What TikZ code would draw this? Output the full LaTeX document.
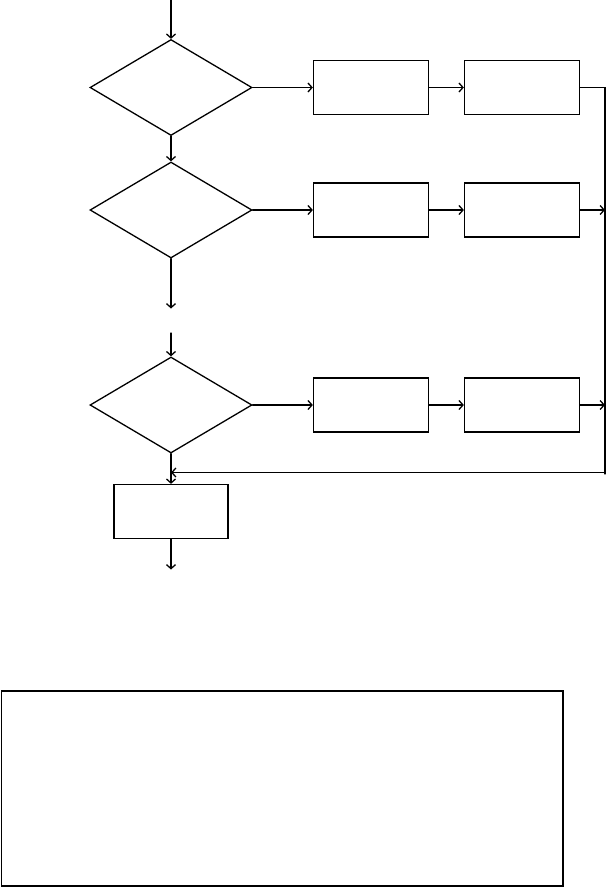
\documentclass[tikz,border=0pt]{standalone}
\usepackage{amssymb,amsmath,tikz}
\usetikzlibrary{arrows.meta, shapes.geometric, positioning, calc}

\begin{document}
\begin{tikzpicture}[x=1pt, y=-1pt, line width=1.3pt, line cap=round,
        decide/.style={draw, diamond, inner sep=0pt, minimum width=162pt, minimum height=96pt},
        stepbox/.style={draw, rectangle, inner sep=0pt, minimum width=115pt, minimum height=54pt},
        flow/.style={-{Straight Barb[length=4pt,width=9pt]}}]
        %\draw [step=10, very thin, lightgray] (0, 0) grid (608,887);
        \useasboundingbox (0, 0) rectangle (608, 887);

        \node [decide] (d1) at (171, 87.5) {};
        \node [decide] (d2) at (171, 210) {};
        \node [decide] (d3) at (171, 405) {};

        \node [stepbox] (a1) at (371, 87.5) {};
        \node [stepbox] (b1) at (522, 87.5) {};
        \node [stepbox] (a2) at (371, 210) {};
        \node [stepbox] (b2) at (522, 210) {};
        \node [stepbox] (a3) at (371, 405) {};
        \node [stepbox] (b3) at (522, 405) {};
        \node [stepbox, minimum width=114pt] (c) at (171, 511.5) {};

        \coordinate (start) at (171, 0);
        \coordinate (cut1) at (171, 308.5);
        \coordinate (cut2) at (171, 333);
        \coordinate (r1) at (605, 87.5);
        \coordinate (r2) at (605, 210);
        \coordinate (r3) at (605, 405);
        \coordinate (rend) at (605, 474);
        \coordinate (back) at (171, 472.5);
        \coordinate (stop) at (171, 569.5);

        \draw [flow] (start) -- (d1.north);
        \draw [flow] (d1.south) -- (d2.north);
        \draw [flow] (d2.south) -- (cut1);
        \draw [flow] (cut2) -- (d3.north);
        \draw [flow] (d3.south) -- (c.north);
        \draw [flow] (c.south) -- (stop);

        \foreach \i in {1,2,3}
        {
            \draw [flow] (d\i.east) -- (a\i.west);
            \draw [flow] (a\i.east) -- (b\i.west);
        }
        \draw (b1.east) -- (r1) -- (rend);
        \draw [flow] (b2.east) -- (r2);
        \draw [flow] (b3.east) -- (r3);
        \draw [flow] (r3 |- back) -- (back);

        \draw (1.5, 691) rectangle (563, 886);
    \end{tikzpicture}
\end{document}
